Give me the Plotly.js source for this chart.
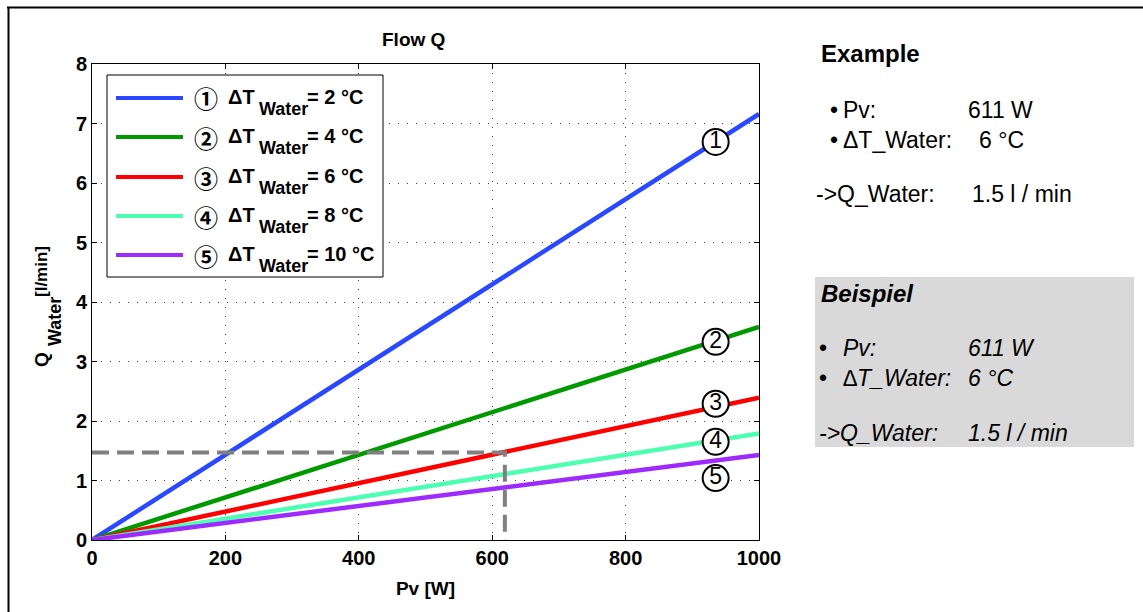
<!DOCTYPE html>
<html>
<head>
<meta charset="utf-8">
<script src="https://cdn.plot.ly/plotly-3.0.1.min.js"></script>
<style>html,body{margin:0;padding:0;background:#fff;}#chart{width:1143px;height:612px;}</style>
</head>
<body>
<div id="chart"></div>
<script>
// ---- data ----
const pvW = [0, 1000];                       // Pv [W]
const deltaT = [2, 4, 6, 8, 10];             // ΔT_Water [°C]
const qDT2 = [0, 7.16];                      // Q_Water [l/min]
const qDT4 = [0, 3.58];
const qDT6 = [0, 2.39];
const qDT8 = [0, 1.79];
const qDT10 = [0, 1.43];
const seriesColors = ['#2a48ff', '#009a00', '#ff0000', '#4dffb0', '#9d2bff'];
const circled = ['①', '②', '③', '④', '⑤'];
const markerDigits = ['1', '2', '3', '4', '5'];
const markerPv = [935, 935, 935, 935, 935];
const markerQ = [6.69, 3.33, 2.29, 1.65, 1.04];
const examplePv = [0, 619, 619];
const exampleQ = [1.47, 1.47, 0];
const xTicks = [0, 200, 400, 600, 800, 1000];
const yTicks = [0, 1, 2, 3, 4, 5, 6, 7, 8];

// ---- layout geometry (pixels) ----
const L = 92, R = 759, T = 64, B = 540;
const PW = R - L, PH = B - T;
const px = x => (x - L) / PW;
const py = y => (B - y) / PH;
const FONT = 'Liberation Sans, Arial, Helvetica, sans-serif';
const CIRC = "'Noto Sans CJK JP', 'Noto Sans CJK SC', sans-serif";

const qSeries = [qDT2, qDT4, qDT6, qDT8, qDT10];
const traces = qSeries.map((q, i) => ({
  x: pvW, y: q, type: 'scatter', mode: 'lines',
  name: circled[i] + ' ΔT Water = ' + deltaT[i] + ' °C',
  line: {color: seriesColors[i], width: 4.5},
  showlegend: false, hoverinfo: 'skip'
}));
traces.push({
  x: examplePv, y: exampleQ, type: 'scatter', mode: 'lines',
  line: {color: '#808080', width: 4, dash: '17px,8px'},
  showlegend: false, hoverinfo: 'skip'
});
traces.push({
  x: markerPv, y: markerQ, type: 'scatter', mode: 'markers+text',
  text: markerDigits, textposition: 'middle center',
  textfont: {family: FONT, size: 23, color: '#000'},
  marker: {size: 26, color: '#fff', line: {color: '#000', width: 2}},
  showlegend: false, hoverinfo: 'skip', cliponaxis: false
});

const shapes = [];
const annotations = [];
function addAnn(x, y, text, font, extra) {
  annotations.push(Object.assign({xref: 'paper', yref: 'paper', x: px(x), y: py(y), xanchor: 'left', yanchor: 'middle',
    showarrow: false, text: text, font: font, borderpad: 0}, extra || {}));
}

// outer frame (top and left edges)
shapes.push({type: 'line', xref: 'paper', yref: 'paper', x0: px(7), x1: px(1143), y0: py(7.5), y1: py(7.5), line: {color: '#000', width: 2}});
shapes.push({type: 'line', xref: 'paper', yref: 'paper', x0: px(8.5), x1: px(8.5), y0: py(7), y1: py(612), line: {color: '#000', width: 2}});

// manual legend box
shapes.push({type: 'rect', xref: 'paper', yref: 'paper', x0: px(107), x1: px(383), y0: py(75), y1: py(277),
  line: {color: '#000', width: 1}, fillcolor: '#fff'});
const legendRows = [98, 137, 177, 216, 255];
const legFont = {family: FONT, size: 20, color: '#000', weight: 'bold'};
const legSubFont = {family: FONT, size: 18, color: '#000', weight: 'bold'};
legendRows.forEach((ry, i) => {
  shapes.push({type: 'line', xref: 'paper', yref: 'paper', x0: px(116), x1: px(183), y0: py(ry), y1: py(ry),
    line: {color: seriesColors[i], width: 4}});
  addAnn(193, ry, circled[i], {family: CIRC, size: 24, color: '#000', weight: 'bold'});
  addAnn(227, ry - 1, 'ΔT', legFont);
  addAnn(258, ry + 11, 'Water', legSubFont);
  addAnn(306, ry - 1, '= ' + deltaT[i] + ' °C', legFont);
});

// title
addAnn(413, 40, 'Flow Q', {family: FONT, size: 19, color: '#000', weight: 'bold'}, {xanchor: 'center'});

// y-axis title (Q with a large subscript), rotated
const yTitleFont = {family: FONT, size: 19, color: '#000', weight: 'bold'};
addAnn(41, 360, 'Q', yTitleFont, {xanchor: 'center', textangle: -90});
addAnn(55, 322, 'Water', {family: FONT, size: 18, color: '#000', weight: 'bold'}, {xanchor: 'center', textangle: -90});
addAnn(41, 272, '[l/min]', {family: FONT, size: 17, color: '#000', weight: 'bold'}, {xanchor: 'center', textangle: -90});

// right panel
const panelFont = {family: FONT, size: 23, color: '#000'};
const panelBold = {family: FONT, size: 24, color: '#000', weight: 'bold'};
// Example
addAnn(820, 53, 'Example', panelBold);
addAnn(829, 110, '•', panelFont); addAnn(842, 110, 'Pv:', panelFont); addAnn(967, 110, '611 W', panelFont);
addAnn(829, 140, '•', panelFont); addAnn(842, 140, 'ΔT_Water:', panelFont); addAnn(978, 140, '6 °C', panelFont);
addAnn(815, 194, '->Q_Water:', panelFont); addAnn(971, 194, '1.5 l / min', panelFont);

// Beispiel (grey box)
shapes.push({type: 'rect', xref: 'paper', yref: 'paper', x0: px(815), x1: px(1134), y0: py(277), y1: py(447),
  line: {width: 0}, fillcolor: '#d9d9d9', layer: 'below'});
const itFont = {family: FONT, size: 23, color: '#000', style: 'italic'};
addAnn(820, 293, 'Beispiel', {family: FONT, size: 24, color: '#000', weight: 'bold', style: 'italic'});
addAnn(818, 348, '•', panelFont); addAnn(842, 348, 'Pv:', itFont); addAnn(967, 348, '611 W', itFont);
addAnn(818, 378, '•', panelFont); addAnn(842, 378, '∆T_Water:', itFont); addAnn(967, 378, '6 °C', itFont);
addAnn(818, 433, '->Q_Water:', itFont); addAnn(967, 433, '1.5 l / min', itFont);

const axisCommon = {
  showline: true, linecolor: '#000', linewidth: 1, mirror: 'ticks',
  ticks: 'inside', ticklen: 5, tickwidth: 1, tickcolor: '#000',
  showgrid: true, gridcolor: '#444', gridwidth: 1, griddash: '1px,8px',
  zeroline: false, fixedrange: true,
  tickfont: {family: FONT, size: 20, color: '#000', weight: 'bold'}
};

const layout = {
  width: 1143, height: 612,
  margin: {l: L, r: 1143 - R, t: T, b: 612 - B, pad: 0},
  paper_bgcolor: '#fff', plot_bgcolor: '#fff',
  showlegend: false,
  xaxis: Object.assign({}, axisCommon, {
    range: [0, 1000], tickvals: xTicks, ticktext: xTicks.map(String),
    title: {text: '<b>Pv [W]</b>', font: {family: FONT, size: 19, color: '#000'}, standoff: 13}
  }),
  yaxis: Object.assign({}, axisCommon, {
    range: [0, 8], tickvals: yTicks, ticktext: yTicks.map(String)
  }),
  shapes: shapes,
  annotations: annotations
};

Plotly.newPlot('chart', traces, layout, {displayModeBar: false, staticPlot: true});
</script>
</body>
</html>
